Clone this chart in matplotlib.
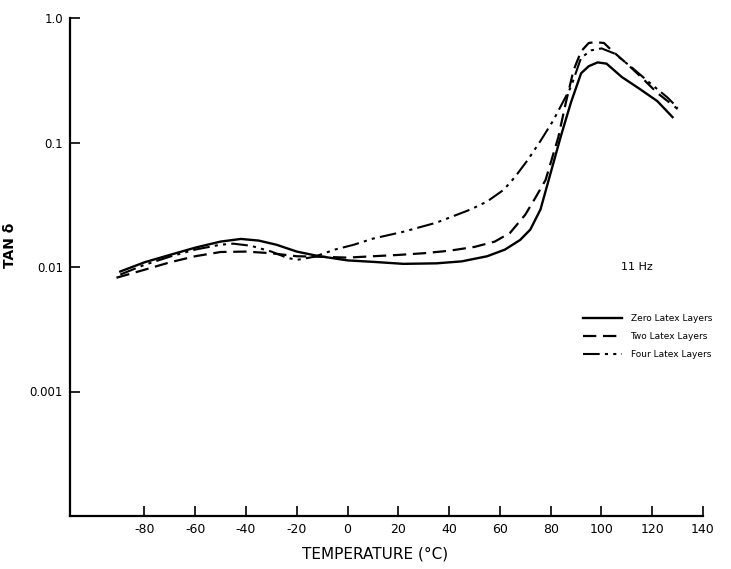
import matplotlib
matplotlib.use("Agg")
import matplotlib.pyplot as plt
import matplotlib.ticker as ticker

# Zero latex layers (solid)
t_zero = [-89.5, -80, -70, -60, -50, -42, -35, -28, -20, -12, 0, 10, 22, 35, 45, 55,
          62, 68, 72, 76, 80, 84, 88, 92, 95, 98.5, 102, 108, 115, 122, 128]
tan_zero = [0.0092, 0.0109, 0.0125, 0.0143, 0.0160, 0.0168, 0.0163, 0.0151, 0.0133, 0.0123,
            0.0113, 0.0110, 0.0106, 0.0107, 0.0111, 0.0122, 0.0138, 0.0165, 0.020, 0.029,
            0.057, 0.112, 0.21, 0.36, 0.41, 0.44, 0.43, 0.336, 0.27, 0.215, 0.16]

# Two latex layers (dashed)
t_two = [-91, -80, -70, -60, -50, -40, -30, -20, -12, 0, 10, 20, 30, 40, 50, 58, 64, 70,
         74, 78, 83, 86, 89, 92, 95, 97.5, 101, 104, 110, 116, 122, 130]
tan_two = [0.0082, 0.0095, 0.0109, 0.0122, 0.0132, 0.0133, 0.0129, 0.0122, 0.0121, 0.0119,
           0.0122, 0.0125, 0.0129, 0.0135, 0.0145, 0.0160, 0.0188, 0.0263, 0.036, 0.050,
           0.11, 0.21, 0.38, 0.54, 0.63, 0.64, 0.63, 0.55, 0.43, 0.33, 0.25, 0.186]

# Four latex layers (dash-dot-dot)
t_four = [-89.5, -80, -70, -60, -50, -45, -38, -30, -24, -20, -13, -5, 2.5, 10, 22, 35,
          48.5, 55, 61.5, 66, 71, 76, 81, 88, 92, 96, 100, 105, 112, 120, 126, 130]
tan_four = [0.0087, 0.0104, 0.0121, 0.0138, 0.0151, 0.0154, 0.0148, 0.0133, 0.0119, 0.0114,
            0.0121, 0.0138, 0.0151, 0.0169, 0.0192, 0.0227, 0.029, 0.0336, 0.0417, 0.053,
            0.0725, 0.103, 0.15, 0.28, 0.48, 0.55, 0.57, 0.52, 0.40, 0.29, 0.23, 0.19]

x_ticks = [-80, -60, -40, -20, 0, 20, 40, 60, 80, 100, 120, 140]
y_ticks = [1.0, 0.1, 0.01, 0.001]
y_ticklabels = ["1.0", "0.1", "0.01", "0.001"]

plt.rcParams['font.family'] = ['DejaVu Sans']
fig = plt.figure(figsize=(7.31, 5.69), dpi=100)
ax = fig.add_axes([70 / 731, 53 / 569, 633 / 731, 498 / 569])

ax.plot(t_zero, tan_zero, color="k", lw=1.7, linestyle="-", label="Zero Latex Layers")
ax.plot(t_two, tan_two, color="k", lw=1.6, linestyle=(0, (6, 3)), label="Two Latex Layers")
ax.plot(t_four, tan_four, color="k", lw=1.5, linestyle=(0, (8, 2.5, 1.5, 2.5, 1.5, 2.5)),
        label="Four Latex Layers")

ax.set_yscale("log")
ax.set_xlim(-109.3, 140)
ax.set_ylim(1e-4, 1.0)

ax.set_xticks(x_ticks)
ax.set_xticklabels([str(v) for v in x_ticks], fontsize=9)
ax.set_yticks(y_ticks)
ax.set_yticklabels(y_ticklabels, fontsize=8.5)
ax.yaxis.set_minor_locator(ticker.NullLocator())
ax.tick_params(axis="both", direction="in", length=7, width=1.2, pad=5, colors="k")

ax.spines["top"].set_visible(False)
ax.spines["right"].set_visible(False)
ax.spines["left"].set_linewidth(1.6)
ax.spines["bottom"].set_linewidth(1.6)

ax.set_xlabel("TEMPERATURE (°C)", fontsize=11)
ax.xaxis.set_label_coords(0.482, -0.062)
ax.set_ylabel("TAN δ", fontsize=10, fontweight="bold")
ax.yaxis.set_label_coords(-0.084, 0.544)

ax.text(0.895, 0.50, "11 Hz", transform=ax.transAxes, fontsize=8,
        ha="center", va="center")

ax.legend(loc="center left", bbox_to_anchor=(0.81, 0.361), frameon=False,
          fontsize=6.5, handlelength=4.3, handletextpad=1.0, labelspacing=1.0,
          borderpad=0, borderaxespad=0)

fig.savefig("out.png", dpi=100)
